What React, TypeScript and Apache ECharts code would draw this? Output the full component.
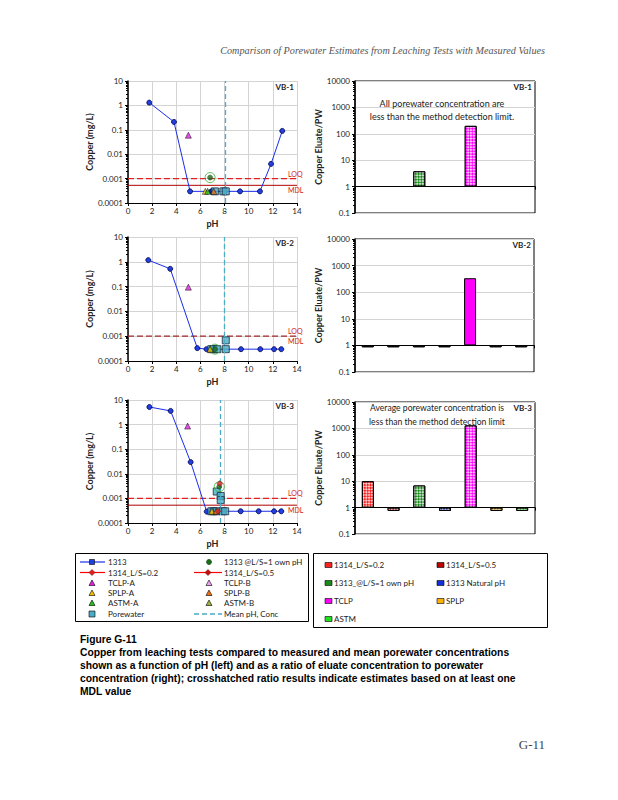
import React, { useEffect, useRef } from 'react';
import * as echarts from 'echarts';

// ---------- data ----------
const panels = ['VB-1', 'VB-2', 'VB-3'];

// 1313 natural pH series (pH, Cu mg/L)
const ph1313 = [
  [1.76, 3.81, 5.14, 6.9, 7.0, 9.28, 10.93, 11.85, 12.78],
  [1.68, 3.5, 5.74, 6.5, 6.9, 9.36, 10.96, 12.1, 12.7],
  [1.77, 3.53, 5.19, 6.52, 7.3, 9.33, 10.82, 12.1, 12.7],
];
const cu1313 = [
  [1.3, 0.21, 0.0003, 0.0003, 0.0003, 0.0003, 0.0003, 0.004, 0.09],
  [1.17, 0.52, 0.00033, 0.0003, 0.0003, 0.0003, 0.0003, 0.0003, 0.0003],
  [5.2, 3.6, 0.03, 0.00029, 0.0003, 0.0003, 0.0003, 0.0003, 0.0003],
];
const ownPH = [[[6.8, 0.0011]], [[7.2, 0.0003]], [[7.56, 0.003]]];
const l1314a = [[], [], [[7.6, 0.004], [7.45, 0.0003]]];
const tclpA = [[[5.0, 0.06]], [[5.0, 0.095]], [[4.94, 0.87]]];
const splpA = [[[6.4, 0.0003]], [[6.8, 0.0003]], [[6.95, 0.0003]]];
const splpB = [[[7.1, 0.0003]], [], [[7.3, 0.0003]]];
const astmA = [[[6.6, 0.0003]], [], []];
const porewater = [
  [[7.2, 0.0003], [7.9, 0.0003], [8.1, 0.0003]],
  [[6.9, 0.0003], [7.1, 0.0003], [7.4, 0.0003], [8.1, 0.0003], [8.1, 0.00068]],
  [[6.9, 0.0003], [7.1, 0.0003], [7.35, 0.0003], [7.35, 0.0019], [7.68, 0.00125], [7.68, 0.00085], [7.85, 0.0003], [8.05, 0.0003]],
];
const meanPH = [8.04, 7.95, 7.68];
const meanConc = [0.0003, 0.0003, 0.0003];
const loq = [0.001, 0.001, 0.001];
const mdl = [0.00053, 0.001, 0.00053];
const pHRange = [0, 14];

// ratio eluate / porewater
const cats = ['1314_L/S=0.2', '1314_L/S=0.5', '1313_@L/S=1 own pH', '1313 Natural pH', 'TCLP', 'SPLP', 'ASTM'];
const barColors = ['#ff2020', '#c00000', '#1a8a1a', '#1030e0', '#ff00ff', '#ffb000', '#20e020'];
const ratios = [
  [null, null, 3.8, null, 200, null, null],
  [0.85, 0.85, 0.85, 0.85, 335, 0.85, 0.85],
  [10, 0.75, 6.9, 0.75, 1300, 0.75, 0.75],
];
const hatched = [
  [false, false, true, false, true, false, false],
  [true, true, true, true, false, true, true],
  [true, true, true, true, true, true, true],
];
const notes = [
  ['All porewater concentration are', 'less than the method detection limit.'],
  [],
  ['Average porewater concentration is', 'less than the method detection limit'],
];
const noteY = [103, 0, 408];

// ---------- layout ----------
const leftGrids = [
  { left: 128, top: 81, width: 169, height: 122 },
  { left: 128, top: 237, width: 169, height: 124 },
  { left: 128, top: 400, width: 169, height: 123 },
];
const rightGrids = [
  { left: 355, top: 81, width: 180, height: 132 },
  { left: 355, top: 239, width: 179, height: 133 },
  { left: 355, top: 402, width: 180, height: 132 },
];
const FONT = 'Lato';
const AX = '#222';

function hatchDecal() {
  return {
    symbol: 'rect',
    symbolSize: 1,
    color: 'rgba(255,255,255,0.75)',
    dashArrayX: [[1.5, 1.5], [0, 1.5, 1.5, 0]],
    dashArrayY: [1.5, 0],
    rotation: Math.PI / 4,
  };
}

const logFmt = (v: number) => (v >= 1 ? String(Math.round(v)) : String(v));

function buildOption() {
  const grid: any[] = [];
  const xAxis: any[] = [];
  const yAxis: any[] = [];
  const series: any[] = [];
  const g: any[] = [];

  panels.forEach((name, p) => {
    const L = leftGrids[p];
    const R = rightGrids[p];
    const li = p * 2;
    const ri = p * 2 + 1;
    grid.push({ ...L, show: false, containLabel: false });
    grid.push({ ...R, show: true, borderColor: '#000', borderWidth: 1, backgroundColor: 'transparent', containLabel: false });

    xAxis.push({
      gridIndex: li, type: 'value', min: 0, max: 14, interval: 2,
      name: 'pH', nameLocation: 'middle', nameGap: 16,
      nameTextStyle: { fontWeight: 'bold', fontSize: 9, color: AX, fontFamily: FONT },
      axisLine: { show: true, lineStyle: { color: '#000', width: 1 } },
      axisTick: { show: true, length: 3, lineStyle: { color: '#000' } },
      axisLabel: { fontSize: 8, color: AX, margin: 4, fontFamily: FONT },
      splitLine: { show: true, lineStyle: { color: '#d4d4d4', width: 1 } },
    });
    xAxis.push({
      gridIndex: ri, type: 'category', data: cats, position: 'bottom', offset: -R.height / 5,
      boundaryGap: true,
      axisLine: { show: true, lineStyle: { color: '#000', width: 1.2 } },
      axisTick: { show: true, length: 3, alignWithLabel: false, lineStyle: { color: '#000' } },
      axisLabel: { show: false },
      splitLine: { show: false },
    });
    yAxis.push({
      gridIndex: li, type: 'log', logBase: 10, min: 0.0001, max: 10,
      name: 'Copper (mg/L)', nameLocation: 'middle', nameGap: 32, nameRotate: 90,
      nameTextStyle: { fontWeight: 'bold', fontSize: 9, color: AX, fontFamily: FONT },
      axisLine: { show: true, lineStyle: { color: '#000', width: 1.5 } },
      axisTick: { show: true, length: 3, lineStyle: { color: '#000' } },
      minorTick: { show: true, splitNumber: 9, length: 2, lineStyle: { color: '#000' } },
      axisLabel: { fontSize: 8, color: AX, margin: 5, fontFamily: FONT, formatter: logFmt },
      splitLine: { show: true, lineStyle: { color: '#d4d4d4', width: 1 } },
    });
    yAxis.push({
      gridIndex: ri, type: 'log', logBase: 10, min: 0.1, max: 10000,
      name: 'Copper Eluate/PW', nameLocation: 'middle', nameGap: 30, nameRotate: 90,
      nameTextStyle: { fontWeight: 'bold', fontSize: 9, color: AX, fontFamily: FONT },
      axisLine: { show: true, lineStyle: { color: '#000', width: 1.5 } },
      axisTick: { show: true, length: 3, lineStyle: { color: '#000' } },
      minorTick: { show: true, splitNumber: 9, length: 2, lineStyle: { color: '#000' } },
      axisLabel: { fontSize: 8, color: AX, margin: 5, fontFamily: FONT, formatter: logFmt },
      splitLine: { show: true, lineStyle: { color: '#d4d4d4', width: 1 } },
    });

    const mk = { xAxisIndex: li, yAxisIndex: li };
    // MDL (solid) and LOQ (dashed) reference lines
    series.push({
      ...mk, type: 'line', name: 'MDL', z: 2, silent: true, symbol: 'none',
      data: pHRange.map((x) => [x, mdl[p]]),
      lineStyle: { color: '#b00000', width: 1, type: 'solid', opacity: p === 1 ? 0 : 1 },
      endLabel: { show: true, formatter: 'MDL', offset: [-17, 5], color: '#d02020', fontSize: 7, fontFamily: FONT },
    });
    series.push({
      ...mk, type: 'line', name: 'LOQ', z: 2, silent: true, symbol: 'none',
      data: pHRange.map((x) => [x, loq[p]]),
      lineStyle: { color: p === 1 ? '#a02828' : '#e02020', width: 1.2, type: [6, 3] },
      endLabel: { show: true, formatter: 'LOQ', offset: [-17, -5], color: '#d02020', fontSize: 7, fontFamily: FONT },
    });
    series.push({
      ...mk, type: 'line', name: '1313', z: 3,
      data: ph1313[p].map((x, i) => [x, cu1313[p][i]]),
      lineStyle: { color: '#1a2ee8', width: 1 },
      symbol: 'circle', symbolSize: 5,
      itemStyle: { color: '#2040e0', borderColor: '#000050', borderWidth: 0.8 },
    });
    series.push({
      ...mk, type: 'scatter', name: 'Porewater', z: 4, data: porewater[p],
      symbol: 'rect', symbolSize: 7,
      itemStyle: { color: '#4bacc6', borderColor: '#1a2a40', borderWidth: 1 },
      markLine: {
        symbol: 'none', silent: true, animation: false, label: { show: false },
        lineStyle: { color: '#4bacc6', type: [5, 3], width: 1.3 },
        data: [{ xAxis: meanPH[p] }, { yAxis: meanConc[p] }],
      },
    });
    series.push({
      ...mk, type: 'scatter', name: '1313 @L/S=1 own pH', z: 5, data: ownPH[p],
      symbol: 'circle', symbolSize: 5,
      itemStyle: { color: '#1a6a1a', borderColor: '#0a3a0a', borderWidth: 0.6 },
    });
    series.push({
      ...mk, type: 'scatter', name: 'ring', z: 5, data: ownPH[p],
      symbol: 'circle', symbolSize: 10,
      itemStyle: { color: 'rgba(0,0,0,0)', borderColor: '#30b030', borderWidth: 1 },
    });
    series.push({
      ...mk, type: 'scatter', name: '1314_L/S=0.2', z: 6, data: l1314a[p],
      symbol: 'diamond', symbolSize: 6,
      itemStyle: { color: '#e02020', borderColor: '#600000', borderWidth: 0.5 },
    });
    const tri = (nm: string, d: any, c: string) => ({
      ...mk, type: 'scatter', name: nm, z: 5, data: d,
      symbol: 'triangle', symbolSize: 6,
      itemStyle: { color: c, borderColor: '#000', borderWidth: 0.6 },
    });
    series.push(tri('TCLP-A', tclpA[p], '#e020e0'));
    series.push(tri('SPLP-A', splpA[p], '#f0c000'));
    series.push(tri('SPLP-B', splpB[p], '#f07010'));
    series.push(tri('ASTM-A', astmA[p], '#20c020'));

    series.push({
      type: 'bar', name: 'ratio ' + name, xAxisIndex: ri, yAxisIndex: ri, barWidth: 12,
      itemStyle: { borderColor: '#000', borderWidth: 1 },
      data: ratios[p].map((v, i) =>
        v == null ? '-' : {
          value: v,
          itemStyle: hatched[p][i]
            ? { color: barColors[i], decal: hatchDecal() }
            : { color: barColors[i] },
        }),
    });

    // panel labels
    g.push({ type: 'text', z: 50, style: { text: name, x: L.left + L.width - 3, y: L.top + 6, align: 'right', verticalAlign: 'middle', font: 'bold 8px Lato', fill: '#222' } });
    g.push({ type: 'text', z: 50, style: { text: name, x: R.left + R.width - 3, y: R.top + 6, align: 'right', verticalAlign: 'middle', font: 'bold 8px Lato', fill: '#222' } });
    notes[p].forEach((t, k) => {
      g.push({ type: 'text', z: 50, style: { text: t, x: R.left + (p === 2 ? 82 : 87), y: noteY[p] + k * 13.5, align: 'center', verticalAlign: 'middle', font: (p === 2 ? '8.6px' : '9px') + ' Lato', fill: '#222' } });
    });
  });

  // header / footer
  g.push({ type: 'text', style: { text: 'Comparison of Porewater Estimates from Leaching Tests with Measured Values', x: 545, y: 50, align: 'right', verticalAlign: 'middle', font: 'italic 10.2px "Liberation Serif"', fill: '#555' } });
  g.push({ type: 'text', style: { text: 'G-11', x: 545, y: 744, align: 'right', verticalAlign: 'middle', font: '13px "Liberation Serif"', fill: '#444' } });

  // left legend
  g.push({ type: 'rect', shape: { x: 75.5, y: 553.5, width: 233, height: 68 }, style: { fill: 'none', stroke: '#000', lineWidth: 1 } });
  const rows = [562, 572.5, 583, 593, 603, 614];
  const c1 = 92, c2 = 209, t1 = 108, t2 = 224;
  const txt = (x: number, y: number, t: string) => ({ type: 'text', style: { text: t, x, y, verticalAlign: 'middle', font: '8px Lato', fill: '#222' } });
  const lineIcon = (x1: number, x2: number, y: number, c: string, dash?: number[]) => ({ type: 'line', shape: { x1, y1: y, x2, y2: y }, style: { stroke: c, lineWidth: dash ? 1.3 : 1.2, lineDash: dash || null } });
  const triIcon = (cx: number, cy: number, c: string) => ({ type: 'polygon', shape: { points: [[cx, cy - 3], [cx + 3, cy + 2.5], [cx - 3, cy + 2.5]] }, style: { fill: c, stroke: '#000', lineWidth: 0.6 } });
  const diaIcon = (cx: number, cy: number, c: string) => ({ type: 'polygon', shape: { points: [[cx, cy - 3], [cx + 3, cy], [cx, cy + 3], [cx - 3, cy]] }, style: { fill: c, stroke: '#600000', lineWidth: 0.5 } });
  const sqIcon = (cx: number, cy: number, c: string, s = 5) => ({ type: 'rect', shape: { x: cx - s / 2, y: cy - s / 2, width: s, height: s }, style: { fill: c, stroke: '#000', lineWidth: 0.6 } });

  g.push(lineIcon(80, 105, rows[0], '#1a2ee8'), sqIcon(c1, rows[0], '#2040e0'), txt(t1, rows[0], '1313'));
  g.push({ type: 'circle', shape: { cx: c2, cy: rows[0], r: 2.6 }, style: { fill: '#1a6a1a', stroke: '#0a3a0a', lineWidth: 0.5 } }, txt(t2, rows[0], '1313 @L/S=1 own pH'));
  g.push(lineIcon(80, 105, rows[1], '#ff0000'), diaIcon(c1, rows[1], '#e02020'), txt(t1, rows[1], '1314_L/S=0.2'));
  g.push(lineIcon(194, 222, rows[1], '#ff0000'), diaIcon(208, rows[1], '#c01010'), txt(t2, rows[1], '1314_L/S=0.5'));
  g.push(triIcon(c1, rows[2], '#e020e0'), txt(t1, rows[2], 'TCLP-A'));
  g.push(triIcon(c2, rows[2], '#f0a0f0'), txt(t2, rows[2], 'TCLP-B'));
  g.push(triIcon(c1, rows[3], '#f0c000'), txt(t1, rows[3], 'SPLP-A'));
  g.push(triIcon(c2, rows[3], '#f07010'), txt(t2, rows[3], 'SPLP-B'));
  g.push(triIcon(c1, rows[4], '#20c020'), txt(t1, rows[4], 'ASTM-A'));
  g.push(triIcon(c2, rows[4], '#a0b040'), txt(t2, rows[4], 'ASTM-B'));
  g.push(sqIcon(c1, rows[5], '#4bacc6', 6), txt(t1, rows[5], 'Porewater'));
  g.push(lineIcon(194, 222, rows[5], '#4bacc6', [5, 3]), txt(t2, rows[5], 'Mean pH, Conc'));

  // right legend
  g.push({ type: 'rect', shape: { x: 313.5, y: 553.5, width: 234, height: 74 }, style: { fill: 'none', stroke: '#000', lineWidth: 1 } });
  const rr = [565, 583, 601, 619];
  const sw = (x: number, y: number, c: string) => ({ type: 'rect', shape: { x, y: y - 2.5, width: 7, height: 5 }, style: { fill: c, stroke: '#000', lineWidth: 0.6 } });
  const rItems = cats.map((c, i) => ({ c, col: i % 2, row: Math.floor(i / 2), color: barColors[i] }));
  rItems.forEach((it) => {
    const x = it.col === 0 ? 325 : 437;
    g.push(sw(x, rr[it.row], it.color), txt(x + 9, rr[it.row], it.c));
  });

  // caption
  const cap = [
    'Copper from leaching tests compared to measured and mean porewater concentrations',
    'shown as a function of pH (left) and as a ratio of eluate concentration to porewater',
    'concentration (right); crosshatched ratio results indicate estimates based on at least one',
    'MDL value',
  ];
  g.push({ type: 'text', style: { text: 'Figure G-11', x: 80, y: 639, verticalAlign: 'middle', font: 'bold 10.3px "Liberation Sans"', fill: '#000' } });
  cap.forEach((t, k) => g.push({ type: 'text', style: { text: t, x: 80, y: 652 + k * 13, verticalAlign: 'middle', font: 'bold 10.3px "Liberation Sans"', fill: '#000' } }));

  return {
    animation: false,
    backgroundColor: '#ffffff',
    textStyle: { fontFamily: FONT },
    grid, xAxis, yAxis, series,
    graphic: { elements: g },
  };
}

export default function App() {
  const ref = useRef<HTMLDivElement>(null);
  useEffect(() => {
    if (!ref.current) return;
    const chart = echarts.init(ref.current, null, { renderer: 'svg' });
    chart.setOption(buildOption() as any);
    return () => chart.dispose();
  }, []);
  return <div ref={ref} style={{ position: 'absolute', left: 0, top: 0, width: 618, height: 800, background: '#fff' }} />;
}
